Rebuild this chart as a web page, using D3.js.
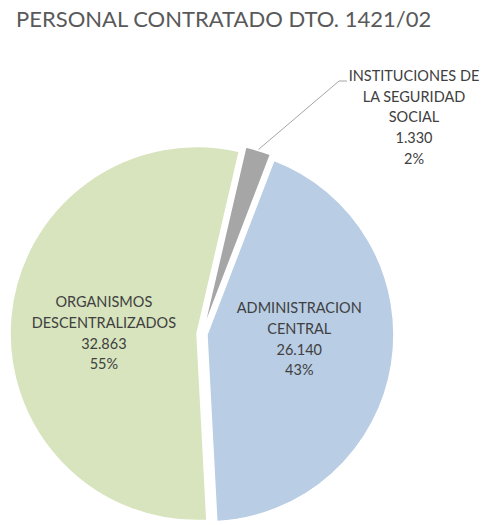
<!DOCTYPE html>
<html>
<head>
<meta charset="utf-8">
<script src="https://cdn.jsdelivr.net/npm/d3@7"></script>
<style>
  body { margin: 0; background: #fff; }
  text { font-family: Lato, "Open Sans", sans-serif; }
</style>
</head>
<body>
<div id="chart"></div>
<script>
// data (order = drawing order, clockwise)
var categories = ["ADMINISTRACION CENTRAL", "ORGANISMOS DESCENTRALIZADOS", "INSTITUCIONES DE LA SEGURIDAD SOCIAL"];
var values = [26140, 32863, 1330];
var pctLabels = ["43%", "55%", "2%"];
var colors = ["#b9cde5", "#d7e4bd", "#a6a6a6"];
var title = "PERSONAL CONTRATADO DTO. 1421/02";

var W = 490, H = 525;
var cx = 202, cy = 334, radius = 187, explode = 5;
var fontSize = 14.5;
var lineH = 20.7;

var locale = d3.formatLocale({decimal: ",", thousands: ".", grouping: [3], currency: ["$", ""]});
var fmt = locale.format(",d");

var svg = d3.select("#chart").append("svg")
    .attr("width", W)
    .attr("height", H);

svg.append("text")
    .attr("x", 16)
    .attr("y", 27)
    .style("font-size", "22px")
    .attr("fill", "#595959")
    .text(title);

var start = 21 * Math.PI / 180;
var pie = d3.pie().sort(null).startAngle(start).endAngle(start + 2 * Math.PI);
var arcs = pie(values);

var arc = d3.arc().innerRadius(0).outerRadius(radius);
var labelArc = d3.arc().innerRadius(radius * 0.5).outerRadius(radius * 0.5);

var g = svg.append("g").attr("transform", "translate(" + cx + "," + cy + ")");

//exploded slices: each one pushed out along its mid angle
function offset(d) {
  var a = (d.startAngle + d.endAngle) / 2;
  return [explode * Math.sin(a), -explode * Math.cos(a)];
}

g.selectAll(".slice")
  .data(arcs)
  .enter().append("path")
    .attr("class", "slice")
    .attr("transform", function(d) { var o = offset(d); return "translate(" + o[0] + "," + o[1] + ")"; })
    .attr("d", arc)
    .style("fill", function(d, i) { return colors[i]; })
    .style("stroke", "#fff")
    .style("stroke-width", 1.5);

//word wrap by measured width
var measure = svg.append("text").style("font-size", fontSize + "px");
function wrapWords(str, width) {
  var words = str.split(/\s+/), lines = [], line = [];
  words.forEach(function(w) {
    line.push(w);
    measure.text(line.join(" "));
    if (measure.node().getComputedTextLength() > width && line.length > 1) {
      line.pop();
      lines.push(line.join(" "));
      line = [w];
    }
  });
  lines.push(line.join(" "));
  return lines;
}
function labelLines(i) {
  return wrapWords(categories[i], 136).concat([fmt(values[i]), pctLabels[i]]);
}
var allLines = categories.map(function(c, i) { return labelLines(i); });
measure.remove();

function drawLabel(x, y, lines) {
  var t = svg.append("text")
      .attr("text-anchor", "middle")
      .style("font-size", fontSize + "px")
      .attr("fill", "#404040");
  lines.forEach(function(l, k) {
    t.append("tspan").attr("x", x).attr("y", y + k * lineH).text(l);
  });
}

// inside labels for the two large slices
[0, 1].forEach(function(i) {
  var d = arcs[i], o = offset(d), c = labelArc.centroid(d);
  var lines = allLines[i];
  var x = cx + o[0] + c[0];
  var yMid = cy + o[1] + c[1] * 0.2 + 1.5;
  drawLabel(x, yMid - (lines.length - 1) * lineH / 2 + 5, lines);
});

// outside label with leader line for the small slice
var sd = arcs[2], so = offset(sd);
var mid = (sd.startAngle + sd.endAngle) / 2;
var p0 = [cx + so[0] + (radius + 1) * Math.sin(mid), cy + so[1] - (radius + 1) * Math.cos(mid)];
var elbow = [339, 81], lineEnd = [347, 81];
svg.append("polyline")
    .attr("points", [p0, elbow, lineEnd].map(function(p) { return p.join(","); }).join(" "))
    .style("fill", "none")
    .style("stroke", "#a6a6a6")
    .style("stroke-width", 1);
drawLabel(414, 81, allLines[2]);
</script>
</body>
</html>
